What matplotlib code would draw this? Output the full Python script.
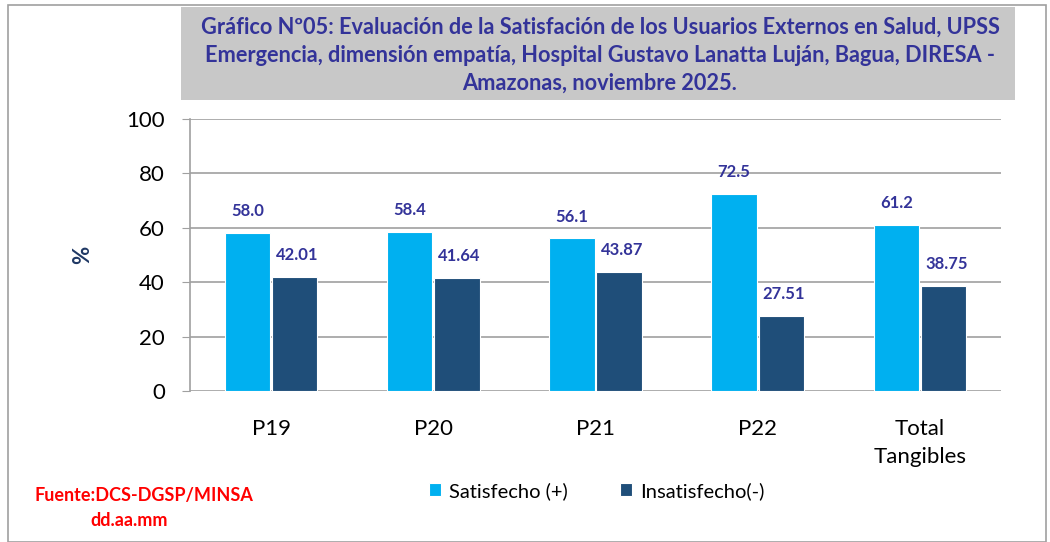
import matplotlib.pyplot as plt
import numpy as np
from matplotlib.patches import Rectangle

categories = ['P19', 'P20', 'P21', 'P22', 'Total\nTangibles']
satisfecho = [58.0, 58.4, 56.1, 72.5, 61.2]
insatisfecho = [42.01, 41.64, 43.87, 27.51, 38.75]
sat_labels = ['58.0', '58.4', '56.1', '72.5', '61.2']
ins_labels = ['42.01', '41.64', '43.87', '27.51', '38.75']

title = ('Gráfico Nº05: Evaluación de la Satisfación de los Usuarios Externos en Salud, UPSS\n'
         'Emergencia, dimensión empatía, Hospital Gustavo Lanatta Luján, Bagua, DIRESA -\n'
         'Amazonas, noviembre 2025.')

plt.rcParams['font.family'] = ['Lato', 'DejaVu Sans']

fig = plt.figure(figsize=(10.5, 5.42), dpi=100)
W, H = 1050, 542

# outer frame
fig.add_artist(Rectangle((8 / W, 0), (1046 - 8) / W, 1 - 5 / H, transform=fig.transFigure,
                         fill=False, edgecolor='#A0A0A0', linewidth=1.2))
# title box
fig.add_artist(Rectangle((181 / W, 1 - 100 / H), (1015 - 181) / W, 93 / H,
                         transform=fig.transFigure, facecolor='#C8C8C8', edgecolor='none'))
fig.text(600 / W, 1 - 55 / H, title, ha='center', va='center', fontsize=15.7,
         fontweight='bold', color='#333399', linespacing=1.42)

ax = fig.add_axes([190 / W, 1 - 391 / H, (1001 - 190) / W, (391 - 119) / H])
x = np.arange(len(categories))
w = 0.28
b1 = ax.bar(x - w / 2 - 0.005, satisfecho, w, color='#00B0F0', edgecolor='white',
            linewidth=0.8, label='Satisfecho (+)', zorder=3)
b2 = ax.bar(x + w / 2 + 0.005, insatisfecho, w, color='#1F4E79', edgecolor='white',
            linewidth=0.8, label='Insatisfecho(-)', zorder=3)

for rect, lab in zip(b1, sat_labels):
    ax.annotate(lab, (rect.get_x() + rect.get_width() / 2, rect.get_height()),
                xytext=(0, 10), textcoords='offset points', ha='center', va='bottom',
                fontsize=12, fontweight='bold', color='#333399')
for rect, lab in zip(b2, ins_labels):
    ax.annotate(lab, (rect.get_x() + rect.get_width() / 2, rect.get_height()),
                xytext=(2, 10), textcoords='offset points', ha='center', va='bottom',
                fontsize=12, fontweight='bold', color='#333399')

ax.set_ylim(0, 100)
ax.set_xlim(-0.5, len(categories) - 0.5)
ax.set_yticks(range(0, 101, 20))
ax.set_xticks(x)
ax.set_xticklabels(categories, fontsize=16, linespacing=1.5)
ax.tick_params(axis='y', labelsize=16, length=6, color='#A0A0A0', pad=12)
ax.tick_params(axis='x', length=0, pad=20)
ax.yaxis.grid(True, color='#A0A0A0', linewidth=1.2, zorder=0)
for s in ['top', 'right', 'bottom']:
    ax.spines[s].set_visible(False)
ax.spines['left'].set_color('#A0A0A0')
ax.spines['left'].set_linewidth(1.2)
ax.set_ylabel('%', fontsize=16, fontweight='bold', color='#1F3864', labelpad=24)

fig.legend(handles=[b1, b2], loc='center', bbox_to_anchor=(597 / W, 1 - 491 / H),
           ncol=2, frameon=False, fontsize=14.5, handlelength=0.6, handleheight=0.6,
           columnspacing=2.6, handletextpad=0.4)

fig.text(35 / W, 1 - 495 / H, 'Fuente:DCS-DGSP/MINSA', fontsize=13, fontweight='bold',
         color='#FF0000', va='center', ha='left')
fig.text(90 / W, 1 - 521 / H, 'dd.aa.mm', fontsize=13, fontweight='bold',
         color='#FF0000', va='center', ha='left')

fig.savefig('out.png', dpi=100)
